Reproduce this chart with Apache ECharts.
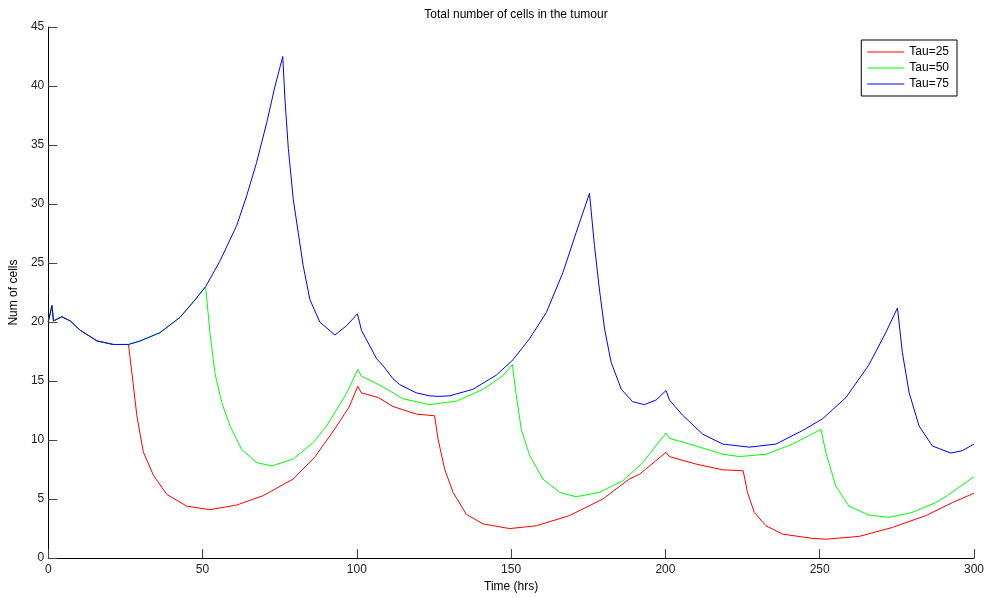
<!DOCTYPE html>
<html lang="en">
<head>
  <meta charset="UTF-8">
  <title>Total number of cells in the tumour</title>
  <style>
  html, body { margin: 0; padding: 0; background: #fff; }
  #main { width: 987px; height: 598px; }
  </style>
  <script src="https://cdn.jsdelivr.net/npm/echarts@6/dist/echarts.min.js"></script>
</head>
<body>
  <div id="main"></div>
  <script>
  // [time (hrs), number of cells]
  var tau25 = [
    [0, 20.0], [1.2, 21.4], [1.7, 20.1], [4.4, 20.45], [7.1, 20.1], [10.4, 19.3], [15.8, 18.4],
    [21.1, 18.1], [26, 18.1], [27.1, 15.7], [28.7, 12.1], [30.8, 9.0], [34.1, 7.0], [38.4, 5.4],
    [44.9, 4.4], [52.4, 4.1], [61.1, 4.5], [69.7, 5.3], [79.4, 6.7], [86.5, 8.6], [93, 11.0],
    [97.5, 12.8], [100.3, 14.55], [101.5, 14.0], [107, 13.6], [111.7, 12.85], [119.3, 12.2],
    [125.2, 12.06], [126.3, 10.1], [128.5, 7.5], [131.2, 5.57], [135.5, 3.7], [140.9, 2.9],
    [149.5, 2.5], [158.2, 2.74], [168.9, 3.6], [179.7, 5.0], [188.3, 6.7], [191.6, 7.1],
    [194.8, 7.8], [200.2, 8.96], [201.3, 8.6], [209.9, 7.97], [218.6, 7.48], [225.2, 7.4],
    [226.6, 5.57], [228.8, 3.87], [232.6, 2.74], [238, 2.03], [247.7, 1.67], [252, 1.6],
    [262.8, 1.84], [273.6, 2.6], [284.4, 3.6], [293, 4.7], [300, 5.5]
  ];

  var tau50 = [
    [0, 20.0], [1.2, 21.4], [1.7, 20.1], [4.4, 20.45], [7.1, 20.1], [10.4, 19.3], [15.8, 18.4],
    [21.1, 18.1], [26, 18.1], [29.8, 18.4], [36.2, 19.1], [42.7, 20.4], [47, 21.7], [51, 23.0],
    [52.4, 19.1], [54, 15.7], [56.2, 13.2], [58.9, 11.2], [62.7, 9.2], [67.5, 8.1], [72.4, 7.8],
    [79.4, 8.4], [85.9, 9.8], [90.2, 11.2], [95.6, 13.5], [97.7, 14.5], [100.3, 16.0], [101.5, 15.4],
    [102.5, 15.3], [108.5, 14.5], [115, 13.5], [123.6, 13.0], [132.3, 13.3], [140.9, 14.3],
    [147.3, 15.45], [150.4, 16.4], [151.7, 13.75], [153.3, 10.9], [156, 8.7], [160.3, 6.7],
    [165.7, 5.57], [171.1, 5.2], [178.6, 5.57], [186.2, 6.55], [192.7, 8.1], [200.2, 10.6],
    [201.3, 10.15], [209.9, 9.5], [218.6, 8.8], [224, 8.6], [232.6, 8.8], [241.2, 9.66],
    [250.4, 10.9], [252, 8.96], [255.2, 6.1], [259.5, 4.4], [266, 3.64], [272.5, 3.45],
    [280, 3.87], [287.6, 4.7], [291.4, 5.3], [300, 6.9]
  ];

  var tau75 = [
    [0, 20.0], [1.2, 21.4], [1.7, 20.1], [4.4, 20.45], [7.1, 20.1], [10.4, 19.3], [15.8, 18.4],
    [21.1, 18.1], [26, 18.1], [29.8, 18.4], [36.2, 19.1], [42.7, 20.4], [47, 21.7], [51, 23.0],
    [55.7, 25.2], [61.1, 28.2], [64.3, 30.7], [67.5, 33.5], [70.8, 36.9], [73.5, 40.0], [76, 42.5],
    [76.7, 38.9], [77.8, 34.7], [79.4, 30.4], [81, 27.6], [82.6, 24.8], [84.8, 21.9], [88, 20.0],
    [92.9, 18.9], [96.7, 19.7], [100.2, 20.7], [101.5, 19.3], [106.4, 16.9], [108.5, 16.3],
    [111.7, 15.2], [113.9, 14.7], [119.3, 14.0], [123.6, 13.75], [126.5, 13.7], [130.1, 13.75],
    [137.6, 14.3], [145.2, 15.5], [150.6, 16.8], [156, 18.6], [161.4, 20.8], [166.8, 24.2],
    [171.1, 27.6], [175.4, 30.9], [177, 26.5], [178.6, 22.8], [180.3, 19.4], [182.4, 16.6],
    [185.7, 14.3], [189.4, 13.25], [193.2, 13.0], [197, 13.4], [200.2, 14.2], [201.3, 13.4],
    [205.6, 12.1], [212.1, 10.5], [218.6, 9.66], [227.2, 9.4], [235.8, 9.66], [244.4, 10.8],
    [250.9, 11.8], [258.5, 13.6], [266, 16.4], [271.4, 19.1], [275.2, 21.2], [276.8, 17.4],
    [279, 14.0], [282.2, 11.2], [286.5, 9.5], [292.5, 8.9], [296.2, 9.1], [300, 9.66]
  ];

  var seriesNames = ['Tau=25', 'Tau=50', 'Tau=75'];
  var seriesColors = ['#ff0000', '#00ff00', '#0000ff'];
  var seriesData = [tau25, tau50, tau75];

  var font = 'Arial, "Liberation Sans", Helvetica, sans-serif';

  var chart = echarts.init(document.getElementById('main'));
  chart.setOption({
    animation: false,
    backgroundColor: '#fff',
    textStyle: { fontFamily: font },
    title: {
      text: 'Total number of cells in the tumour',
      left: 511,
      top: 4,
      textAlign: 'center',
      textStyle: { fontSize: 12, fontWeight: 'normal', color: '#000', fontFamily: font }
    },
    legend: {
      orient: 'vertical',
      right: 30,
      top: 40,
      width: 95,
      data: seriesNames,
      icon: 'rect',
      itemWidth: 37,
      itemHeight: 1,
      itemGap: 4,
      padding: [6, 8, 6, 6],
      borderColor: '#000',
      borderWidth: 1,
      borderRadius: 0,
      backgroundColor: '#fff',
      textStyle: { fontSize: 12, color: '#000', lineHeight: 12 }
    },
    grid: { left: 48, right: 12, top: 27, bottom: 39, containLabel: false },
    xAxis: {
      type: 'value',
      min: 0,
      max: 300,
      interval: 50,
      name: 'Time (hrs)',
      nameLocation: 'middle',
      nameGap: 20,
      nameTextStyle: { fontSize: 12, color: '#000' },
      axisLine: { onZero: false, lineStyle: { color: '#000', width: 1 } },
      axisTick: { inside: true, length: 9, lineStyle: { color: '#444' } },
      axisLabel: { fontSize: 12, color: '#222', margin: 6 },
      splitLine: { show: false }
    },
    yAxis: {
      type: 'value',
      min: 0,
      max: 45,
      interval: 5,
      name: 'Num of cells',
      nameLocation: 'middle',
      nameGap: 25,
      nameTextStyle: { fontSize: 12, color: '#000' },
      axisLine: { show: true, onZero: false, lineStyle: { color: '#000', width: 1 } },
      axisTick: { show: true, inside: true, length: 9, lineStyle: { color: '#444' } },
      axisLabel: { fontSize: 12, color: '#222', margin: 4 },
      splitLine: { show: false }
    },
    series: seriesNames.map(function(name, i) {
      return {
        name: name,
        type: 'line',
        data: seriesData[i],
        showSymbol: false,
        symbol: 'none',
        smooth: false,
        sampling: null,
        lineStyle: { color: seriesColors[i], width: 1 },
        itemStyle: { color: seriesColors[i] }
      };
    })
  });
  </script>
</body>
</html>
